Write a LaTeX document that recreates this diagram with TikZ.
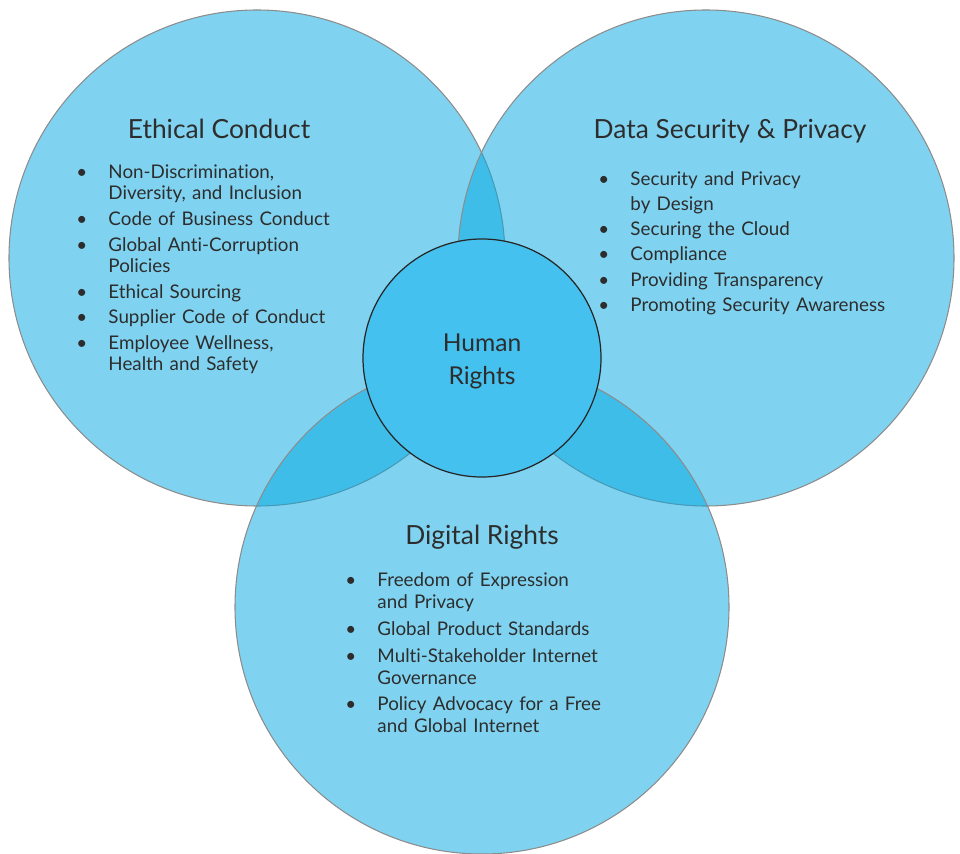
\documentclass[tikz,border=0pt]{standalone}
\usepackage{fontspec}
\setmainfont{Lato}[Ligatures=NoCommon]
\usepackage{enumitem}
\usepackage{xcolor}
\usetikzlibrary{positioning}

\definecolor{ciscoblue}{RGB}{0,168,226}
\definecolor{hubblue}{RGB}{69,193,239}
\definecolor{ringgray}{RGB}{140,140,140}
\definecolor{textgray}{RGB}{45,45,45}

\setlist[itemize]{label=\textbullet, leftmargin=16pt, labelwidth=4pt, labelsep=12pt,
  itemsep=2.8pt, topsep=0pt, parsep=0pt, partopsep=0pt}

\tikzset{
  ring/.style={fill=ciscoblue, fill opacity=0.5, draw=ringgray, line width=0.6pt},
  hub/.style={fill=hubblue, draw=black!85, line width=0.7pt},
  title/.style={text=textgray, font=\fontsize{15}{18}\selectfont},
  itemlist/.style={text=textgray, anchor=north west, inner sep=0pt, text width=6.5cm,
    font=\fontsize{10.7}{#1}\selectfont},
  itemlist/.default=12
}

\begin{document}
\begin{tikzpicture}[x=0.02cm, y=-0.02cm]
    \useasboundingbox (0,0) rectangle (960,854);

    % the three areas
    \draw[ring] (257,258) circle [radius=248];
    \draw[ring] (706,258) circle [radius=248];
    \draw[ring] (482,607) circle [radius=247];

    % centre
    \draw[hub] (482,358) circle [radius=119];
    \node[text=textgray, align=center, font=\fontsize{14}{18.8}\selectfont] (human) at (482,361) {Human\\Rights};

    % headings
    \node[title] (ethical) at (219,129) {Ethical Conduct};
    \node[title] (datasec) at (730,131) {Data Security \& Privacy};
    \node[title] (digital) at (482,537) {Digital Rights};

    % lists
    \node[itemlist=11.95] (ethicallist) at (80,157) {%
      \begin{itemize}
        \item Non-Discrimination,\newline Diversity, and Inclusion
        \item Code of Business Conduct
        \item Global Anti-Corruption\newline Policies
        \item Ethical Sourcing
        \item Supplier Code of Conduct
        \item Employee Wellness,\newline Health and Safety
      \end{itemize}};

    \node[itemlist=14.2] (dataseclist) at (602,160) {%
      \begin{itemize}[itemsep=0.2pt]
        \item Security and Privacy\newline by Design
        \item Securing the Cloud
        \item Compliance
        \item Providing Transparency
        \item Promoting Security Awareness
      \end{itemize}};

    \node[itemlist=12.5] (digitallist) at (349,564) {%
      \begin{itemize}[itemsep=2.8pt]
        \item Freedom of Expression\newline and Privacy
        \item Global Product Standards
        \item Multi-Stakeholder Internet\newline Governance
        \item Policy Advocacy for a Free\newline and Global Internet
      \end{itemize}};
\end{tikzpicture}
\end{document}
